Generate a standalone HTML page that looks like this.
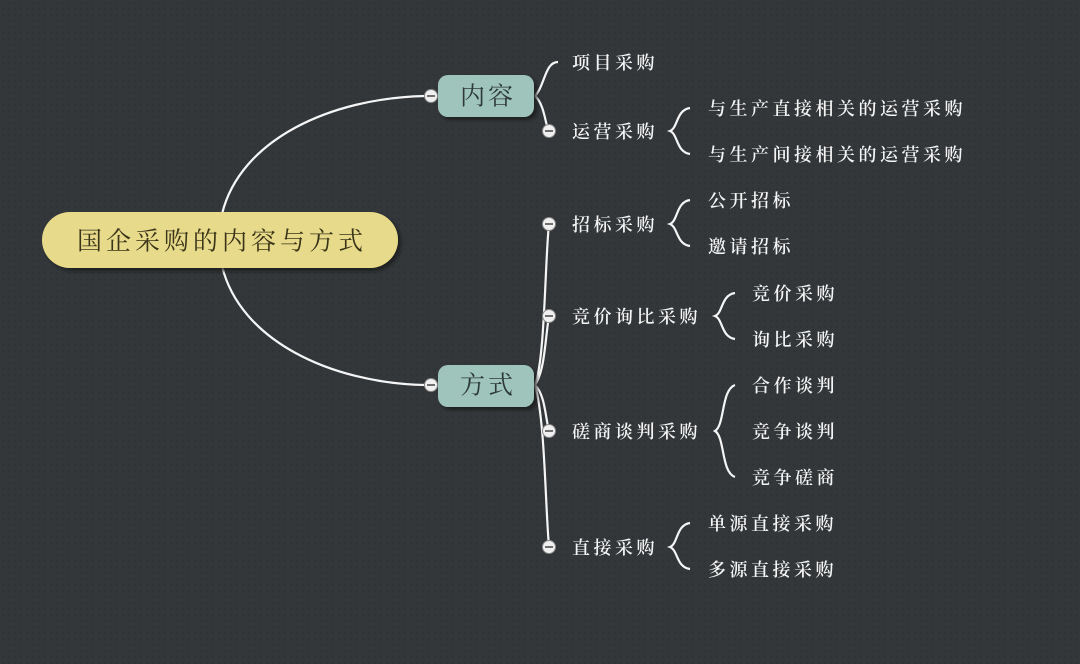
<!DOCTYPE html>
<html><head><meta charset="utf-8"><style>
html,body{margin:0;padding:0;background:#33373a;}
svg{display:block}
text{font-family:"Liberation Serif","Noto Serif CJK SC","Noto Sans CJK SC",serif;}
.l{fill:#f4f4f4;font-size:18px;letter-spacing:3.5px;dominant-baseline:central;font-weight:600}
.c{fill:none;stroke:#f5f5f5;stroke-width:2.2}
</style></head><body>
<svg width="1080" height="664" viewBox="0 0 1080 664">
<defs>
<pattern id="d" width="6" height="6" patternUnits="userSpaceOnUse"><rect width="6" height="6" fill="#33373a"/><circle cx="3" cy="3" r="0.8" fill="#2a2d30"/></pattern>
<filter id="s"><feDropShadow dx="3" dy="3" stdDeviation="1.5" flood-color="#1a1c1e" flood-opacity="0.8"/></filter>
</defs>
<rect width="1080" height="664" fill="url(#d)"/>
<path class="c" d="M222 214 C240 140 330 98 425 96"/>
<path class="c" d="M222 266 C240 340 330 383 425 385"/>
<path class="c" d="M535 96 C545 85 545 62 558 62"/>
<path class="c" d="M535 96 C545 105 545 125 549 131"/>
<path class="c" d="M535 385 C545 360 545 260 549 224"/>
<path class="c" d="M535 385 C545 370 545 340 549 316"/>
<path class="c" d="M535 385 C545 395 545 415 549 431"/>
<path class="c" d="M535 385 C545 420 545 500 549 547"/>
<path class="c" d="M690 108 C676 110 678 128 670 131 C678 134 676 152 690 154"/>
<path class="c" d="M690 200 C676 202 678 221 670 224 C678 227 676 244 690 246"/>
<path class="c" d="M735 293 C721 295 723 313 715 316 C723 319 721 337 735 339"/>
<path class="c" d="M735 385 C721 390 725 425 715 431 C725 437 721 472 735 477"/>
<path class="c" d="M690 523 C676 525 678 544 670 547 C678 550 676 567 690 569"/>
<rect x="42" y="212" width="356" height="56" rx="28" fill="#e7da8b" filter="url(#s)"/>
<text x="222" y="242" font-size="25" fill="#3a3418" text-anchor="middle" dominant-baseline="central" letter-spacing="4">国企采购的内容与方式</text>
<rect x="438" y="75" width="96" height="42" rx="10" fill="#9fc4bc" filter="url(#s)"/>
<text x="488" y="97" font-size="25" fill="#2e3a37" text-anchor="middle" dominant-baseline="central" letter-spacing="3">内容</text>
<rect x="438" y="365" width="96" height="42" rx="10" fill="#9fc4bc" filter="url(#s)"/>
<text x="488" y="386" font-size="25" fill="#2e3a37" text-anchor="middle" dominant-baseline="central" letter-spacing="3">方式</text>
<g fill="#f0f0f0" stroke="#888" stroke-width="1">
<circle cx="431" cy="96" r="6.5"/><circle cx="431" cy="385" r="6.5"/>
<circle cx="549" cy="131" r="6.5"/><circle cx="549" cy="224" r="6.5"/><circle cx="549" cy="316" r="6.5"/><circle cx="549" cy="431" r="6.5"/><circle cx="549" cy="547" r="6.5"/>
</g>
<g stroke="#444" stroke-width="1.6">
<path d="M427 96h8M427 385h8M545 131h8M545 224h8M545 316h8M545 431h8M545 547h8"/>
</g>
<text class="l" x="572" y="63">项目采购</text>
<text class="l" x="572" y="132">运营采购</text>
<text class="l" x="708" y="109">与生产直接相关的运营采购</text>
<text class="l" x="708" y="155">与生产间接相关的运营采购</text>
<text class="l" x="572" y="225">招标采购</text>
<text class="l" x="708" y="201">公开招标</text>
<text class="l" x="708" y="247">邀请招标</text>
<text class="l" x="572" y="317">竞价询比采购</text>
<text class="l" x="752" y="294">竞价采购</text>
<text class="l" x="752" y="340">询比采购</text>
<text class="l" x="572" y="432">磋商谈判采购</text>
<text class="l" x="752" y="386">合作谈判</text>
<text class="l" x="752" y="432">竞争谈判</text>
<text class="l" x="752" y="478">竞争磋商</text>
<text class="l" x="572" y="548">直接采购</text>
<text class="l" x="708" y="524">单源直接采购</text>
<text class="l" x="708" y="570">多源直接采购</text>
</svg>
</body></html>
